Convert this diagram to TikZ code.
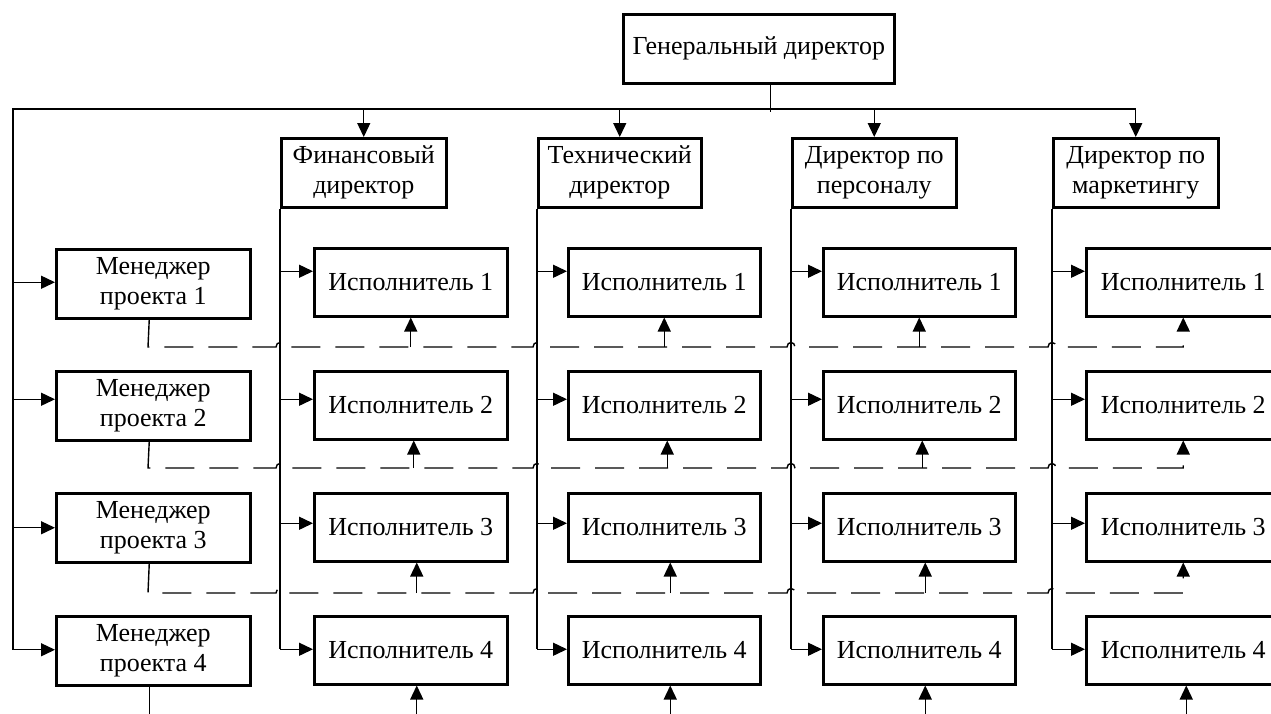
\documentclass[tikz,border=0pt]{standalone}
\usepackage{fontspec}
\setmainfont{Liberation Serif}
\usetikzlibrary{arrows.meta}
\begin{document}
\begin{tikzpicture}[x=1pt,y=-1pt,
  box/.style={draw, line width=2.5pt, inner sep=0pt, align=center, anchor=north west,
              font=\fontsize{26}{30}\selectfont},
  conn/.style={line width=1.4pt},
  arr/.style={conn, -{Triangle[length=14pt,width=13pt]}},
  dsh/.style={conn, dash pattern=on 29pt off 15pt, -{Triangle[length=14pt,width=13pt]}}]
\useasboundingbox (0,0) rectangle (1271,713);

% top
\node[box, minimum width=271pt, minimum height=69pt] (gd) at (622,13) {Генеральный директор};

% directors
\node[box, minimum width=165pt, minimum height=69pt] (d1) at (280,137) {Финансовый\\директор};
\node[box, minimum width=163pt, minimum height=69pt] (d2) at (537,137) {Технический\\директор};
\node[box, minimum width=164pt, minimum height=69pt] (d3) at (791,137) {Директор по\\персоналу};
\node[box, minimum width=165pt, minimum height=69pt] (d4) at (1052,137) {Директор по\\маркетингу};

% managers
\foreach \i/\t in {1/248,2/370,3/492,4/615}
  \node[box, minimum width=194pt, minimum height=69pt] (m\i) at (55,\t) {Менеджер\\проекта \i};

% executors
\foreach \c/\x/\w in {1/313/193,2/567/192,3/822/192,4/1085/194}
  \foreach \r/\t in {1/247,2/370,3/492,4/615}
    \node[box, minimum width=\w pt, minimum height=68pt] (e\c\r) at (\x,\t) {Исполнитель \r};

% bus
\coordinate (busL) at (13,109);
\draw[conn] ([xshift=11.5pt]gd.south) -- ++(0,27);
\foreach \i/\s in {1/1.5,2/6.5,3/0,4/1}
  \path ([yshift=\s pt]m\i.west) coordinate (ma\i);
\draw[conn] (ma4 -| busL) -- (busL) -- (d4.north |- busL);
\foreach \d in {1,...,4}
  \draw[arr] (d\d.north |- busL) -- (d\d.north);
\foreach \i in {1,...,4}
  \draw[arr] (ma\i -| busL) -- (ma\i);

% director verticals and arrows to executors
\foreach \c in {1,...,4}{
  \foreach \r/\s in {1/11,2/6,3/4,4/1}
    \path ([yshift=\s pt]e\c\r.west) coordinate (ea\c\r);
  \draw[conn] (d\c.south west) -- (ea\c4 -| d\c.south west);
  \foreach \r in {1,...,4}
    \draw[arr] (ea\c\r -| d\c.south west) -- (ea\c\r);
}

% dashed project lines
\coordinate (dr1) at (0,347);
\coordinate (dr2) at (0,468);
\coordinate (dr3) at (0,593);
\coordinate (dr4) at (0,725);
\foreach \r/\D in {1/347,2/468,3/593}
  \draw[dsh] ([xshift=-4pt]m\r.south) -- (148,\D)
    -- (276,\D) .. controls (276,\D-6) and (284,\D-6) .. (284,\D)
    -- (533,\D) .. controls (533,\D-6) and (541,\D-6) .. (541,\D)
    -- (787,\D) .. controls (787,\D-6) and (795,\D-6) .. (795,\D)
    -- (1048,\D) .. controls (1048,\D-6) and (1056,\D-6) .. (1056,\D)
    -- (e4\r.south |- dr\r) -- (e4\r.south);

% solid up arrows
\foreach \c in {1,2,3}
  \foreach \r/\s in {1/0,2/3,3/6,4/6}{
    \path ([xshift=\s pt]e\c\r.south) coordinate (eu\c\r);
    \draw[arr] (eu\c\r |- dr\r) -- (eu\c\r);
  }
\path ([xshift=3pt]e44.south) coordinate (eu44);
\draw[arr] (eu44 |- dr4) -- (eu44);

% manager 4 line to bottom
\draw[conn] ([xshift=-4pt]m4.south) -- ++(0,40);
\end{tikzpicture}
\end{document}
